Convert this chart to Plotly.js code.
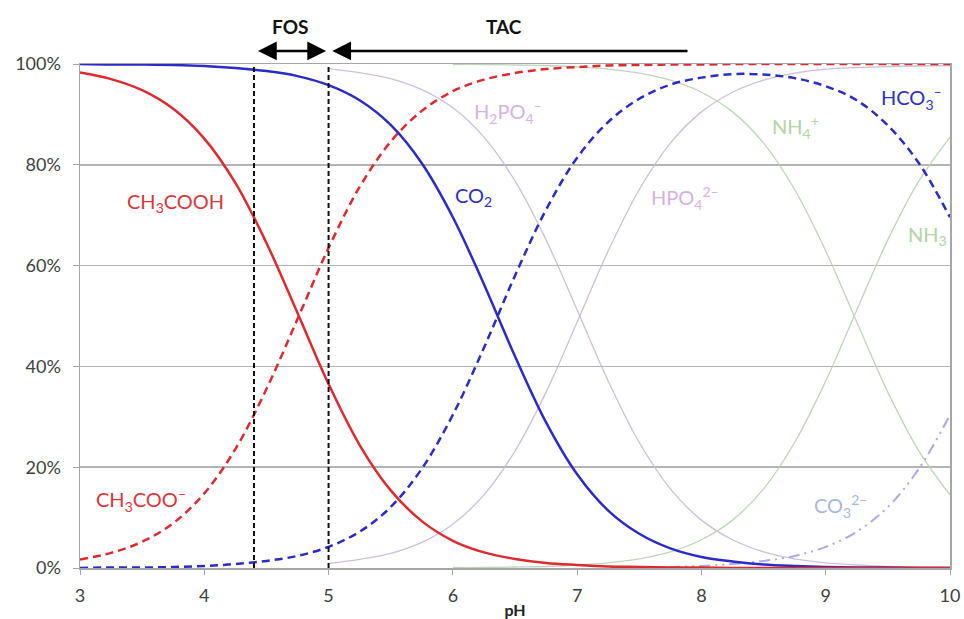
<!DOCTYPE html>
<html>
<head>
<meta charset="utf-8">
<script src="https://cdn.plot.ly/plotly-3.0.1.min.js"></script>
<style>html,body{margin:0;padding:0;background:#fff;}</style>
</head>
<body>
<div id="chart" style="width:964px;height:619px;"></div>
<script>
// ---- data (fractions in %) ----
const pH = [3,3.25,3.5,3.75,4,4.25,4.5,4.75,5,5.25,5.5,5.75,6,6.25,6.5,6.75,7,7.25,7.5,7.75,8,8.25,8.5,8.75,9,9.25,9.5,9.75,10];
const ch3cooh = [98.3,97.0,94.8,91.1,85.2,76.4,64.5,50.6,36.5,24.4,15.4,9.3,5.4,3.1,1.8,1.0,0.6,0.3,0.2,0.1,0.1,0,0,0,0,0,0,0,0];
const ch3coo  = [1.7,3.0,5.2,8.9,14.8,23.6,35.5,49.4,63.5,75.6,84.6,90.7,94.6,96.9,98.2,99.0,99.4,99.7,99.8,99.9,99.9,100,100,100,100,100,100,100,100];
const co2     = [100,99.9,99.9,99.8,99.6,99.2,98.6,97.6,95.8,92.8,87.9,80.3,69.6,56.3,42.0,28.9,18.6,11.4,6.8,3.9,2.2,1.3,0.7,0.4,0.2,0.1,0.1,0,0];
const hco3    = [0,0.1,0.1,0.2,0.4,0.8,1.4,2.4,4.2,7.2,12.1,19.7,30.4,43.7,58.0,71.1,81.4,88.5,93.1,95.9,97.3,98.0,97.9,97.2,95.6,92.8,87.8,80.3,69.6];

const pHCarb = [7.5,7.75,8,8.25,8.5,8.75,9,9.25,9.5,9.75,10];
const co3    = [0.1,0.2,0.4,0.8,1.4,2.4,4.2,7.2,12.1,19.7,30.4];

const pHPhos = [5,5.25,5.5,5.75,6,6.25,6.5,6.75,7,7.25,7.5,7.75,8,8.25,8.5,8.75,9,9.25,9.5,9.75,10];
const h2po4  = [99.1,98.3,97.1,94.9,91.3,85.5,76.8,65.1,51.2,37.1,24.9,15.7,9.5,5.6,3.2,1.8,1.0,0.6,0.3,0.2,0.1];
const hpo4   = [0.9,1.7,2.9,5.1,8.7,14.5,23.2,34.9,48.8,62.9,75.1,84.3,90.5,94.4,96.8,98.2,99.0,99.3,99.5,99.6,99.7];

const pHAmmo = [6,6.25,6.5,6.75,7,7.25,7.5,7.75,8,8.25,8.5,8.75,9,9.25,9.5,9.75,10];
const nh4    = [99.9,99.9,99.8,99.7,99.4,99.0,98.2,96.8,94.4,90.5,84.3,75.1,62.9,48.8,34.9,23.2,14.5];
const nh3    = [0.1,0.1,0.2,0.3,0.6,1.0,1.8,3.2,5.6,9.5,15.7,24.9,37.1,51.2,65.1,76.8,85.5];

const fosRange = [4.4, 5.0];
const tacRange = [5.0, 7.9];
const yTicks = [0,20,40,60,80,100];
const yTickText = ['0%','20%','40%','60%','80%','100%'];
const xTicks = [3,4,5,6,7,8,9,10];

// species labels: [text, pH, %, colour]
const labels = [
  ['CH<sub>3</sub>COOH', 3.77, 72.5, '#d9363c'],
  ['CH<sub>3</sub>COO<sup>–</sup>', 3.49, 13.5, '#d9363c'],
  ['CO<sub>2</sub>', 6.17, 73.7, '#2f2fc4'],
  ['H<sub>2</sub>PO<sub>4</sub><sup>–</sup>', 6.44, 90.5, '#d4b2e2'],
  ['HPO<sub>4</sub><sup>2–</sup>', 7.87, 73.5, '#d4b2e2'],
  ['NH<sub>4</sub><sup>+</sup>', 8.76, 87.5, '#b2d4a6'],
  ['HCO<sub>3</sub><sup>–</sup>', 9.69, 93.3, '#2f2fc4'],
  ['NH<sub>3</sub>', 9.82, 66.0, '#b2d4a6'],
  ['CO<sub>3</sub><sup>2–</sup>', 9.12, 12.3, '#adb6d8']
];

const FONT = 'Lato, "Open Sans", sans-serif';
const red = '#dc2a30', blue = '#2b2bc8';
const phosCol = 'rgba(198,185,212,0.9)', ammoCol = 'rgba(188,210,183,0.95)';

function tr(x, y, color, width, dash) {
  return {x: x, y: y, type: 'scatter', mode: 'lines', cliponaxis: false, hoverinfo: 'skip',
          line: {color: color, width: width, dash: dash || 'solid', shape: 'spline', smoothing: 1}};
}

const data = [
  tr(pHPhos, h2po4, phosCol, 1.3),
  tr(pHPhos, hpo4, phosCol, 1.3),
  tr(pHAmmo, nh4, ammoCol, 1.3),
  tr(pHAmmo, nh3, ammoCol, 1.3),
  tr(pHCarb, co3, '#a9a9e6', 2, '11px,5px,2px,5px,2px,5px'),
  tr(pH, ch3coo, red, 2.5, '8px,5px'),
  tr(pH, hco3, blue, 2.5, '8px,5px'),
  tr(pH, co2, blue, 2.5),
  tr(pH, ch3cooh, red, 2.5)
];

const shapes = [fosRange[0], fosRange[1]].map(v => ({
  type: 'line', xref: 'x', yref: 'y', x0: v, x1: v, y0: 0, y1: 100,
  line: {color: '#111', width: 2, dash: '5px,3px'}
}));

const arrowY = 1.026;
const annotations = labels.map(l => ({
  text: l[0], x: l[1], y: l[2], xref: 'x', yref: 'y', showarrow: false,
  xanchor: 'center', yanchor: 'middle',
  font: {family: FONT, size: 20, color: l[3]}
}));
annotations.push(
  {x: fosRange[1] - 0.02, y: arrowY, xref: 'x', yref: 'paper', ax: fosRange[0] + 0.02, ay: 0,
   axref: 'x', ayref: 'pixel', showarrow: true, arrowhead: 2, arrowside: 'end+start',
   arrowsize: 1.5, arrowwidth: 2.5, arrowcolor: '#000', text: ''},
  {x: tacRange[0] + 0.03, y: arrowY, xref: 'x', yref: 'paper', ax: tacRange[1], ay: 0,
   axref: 'x', ayref: 'pixel', showarrow: true, arrowhead: 2, arrowside: 'end',
   arrowsize: 1.5, arrowwidth: 2.5, arrowcolor: '#000', text: ''},
  {text: '<b>FOS</b>', x: (fosRange[0] + fosRange[1]) / 2 - 0.01, y: 1.075, xref: 'x', yref: 'paper',
   xanchor: 'center', yanchor: 'middle',
   showarrow: false, font: {family: FONT, size: 19, color: '#111'}},
  {text: '<b>TAC</b>', x: (tacRange[0] + tacRange[1]) / 2 - 0.04, y: 1.075, xref: 'x', yref: 'paper',
   xanchor: 'center', yanchor: 'middle',
   showarrow: false, font: {family: FONT, size: 19, color: '#111'}}
);

const layout = {
  width: 964, height: 619,
  margin: {l: 80, r: 14, t: 64, b: 51},
  paper_bgcolor: '#fff', plot_bgcolor: '#fff',
  showlegend: false,
  font: {family: FONT},
  xaxis: {
    range: [3, 10], tickmode: 'array', tickvals: xTicks, showgrid: false, zeroline: false,
    showline: true, mirror: true, linecolor: '#a6a6a6', linewidth: 1.5,
    ticks: 'outside', ticklen: 5, tickcolor: '#a6a6a6', ticklabelstandoff: 6,
    tickfont: {family: FONT, size: 18, color: '#404040'},
    title: {text: '<b>pH</b>', standoff: 0, font: {family: FONT, size: 16, color: '#222'}}
  },
  yaxis: {
    range: [0, 100], tickmode: 'array', tickvals: yTicks, ticktext: yTickText, showgrid: true,
    gridcolor: '#b4b4b4', gridwidth: 1.5, zeroline: false,
    showline: true, mirror: true, linecolor: '#a6a6a6', linewidth: 1.5,
    ticks: 'outside', ticklen: 6, tickcolor: '#a6a6a6', ticklabelstandoff: 8,
    tickfont: {family: FONT, size: 18, color: '#404040'}
  },
  shapes: shapes,
  annotations: annotations
};

Plotly.newPlot('chart', data, layout, {displayModeBar: false, staticPlot: true});
</script>
</body>
</html>
